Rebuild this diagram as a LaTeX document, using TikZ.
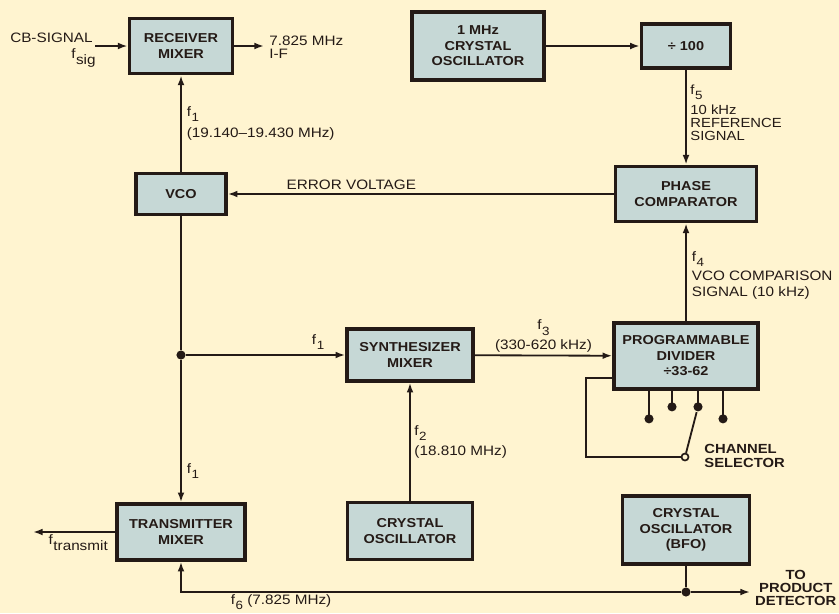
\documentclass[tikz,border=0pt]{standalone}
\usepackage{fontspec}
\setmainfont{Liberation Sans}[FakeStretch=1.12]
\usepackage{tikz}
\usetikzlibrary{arrows.meta,positioning,calc}
\definecolor{Paper}{RGB}{255,244,208}
\definecolor{Panel}{RGB}{198,216,214}
\definecolor{Ink}{RGB}{36,26,22}
\newcommand{\fsub}[1]{f\kern0.4pt\raisebox{-0.7ex}{\fontsize{8.5}{8.5}\selectfont #1}}

\begin{document}
\begin{tikzpicture}[x=0.025cm,y=-0.025cm,
    blk/.style={draw=Ink, line width=2.6pt, fill=Panel, text=Ink, align=center, inner sep=0pt,
      font=\bfseries\fontsize{9.2}{11}\selectfont},
    wire/.style={Ink, line width=1.3pt},
    arr/.style={wire, -{Latex[length=2.4mm,width=1.7mm]}},
    lbl/.style={text=Ink, inner sep=1.5pt, font=\fontsize{9.7}{11}\selectfont},
    sml/.style={text=Ink, inner sep=1.5pt, font=\fontsize{9.4}{9.2}\selectfont},
    dot/.style={circle, fill=Ink, inner sep=0pt, minimum size=6.5pt}]
      \useasboundingbox (0,0) rectangle (839,613);
      \fill[Paper] (0,0) rectangle (839,613);

      \node[blk, minimum width=2.58cm, minimum height=1.38cm] (rxmix) at (181,46) {RECEIVER\\MIXER};
      \node[blk, minimum width=3.3cm, minimum height=1.7cm] (xo1) at (478,46) {1 MHz\\CRYSTAL\\OSCILLATOR};
      \node[blk, minimum width=2.22cm, minimum height=1.1cm] (div100) at (686,46) {÷ 100};
      \node[blk, minimum width=2.25cm, minimum height=1.02cm] (vco) at (181,194) {VCO};
      \node[blk, minimum width=3.52cm, minimum height=1.38cm] (phcmp) at (686,194) {PHASE\\COMPARATOR};
      \node[blk, minimum width=3.15cm, minimum height=1.3cm] (synmix) at (410,355) {SYNTHESIZER\\MIXER};
      \node[blk, minimum width=3.6cm, minimum height=1.65cm] (progdiv) at (686,356) {PROGRAMMABLE\\DIVIDER\\÷33-62};
      \node[blk, minimum width=3.2cm, minimum height=1.4cm] (txmix) at (181,532) {TRANSMITTER\\MIXER};
      \node[blk, minimum width=3.12cm, minimum height=1.42cm] (xo2) at (410,531) {CRYSTAL\\OSCILLATOR};
      \node[blk, minimum width=3.18cm, minimum height=1.7cm] (bfo) at (686,530) {CRYSTAL\\OSCILLATOR\\(BFO)};

      \node[dot] (jn) at (181,355) {};
      \node[dot] (bj) at (686,592) {};
      \coordinate (cbin) at (95,46);
      \coordinate (ifout) at (264,46);
      \coordinate (txout) at (33,532);
      \coordinate (pdout) at (750,592);

      \node[lbl, anchor=east] at (95,38) {CB-SIGNAL};
      \node[lbl, anchor=east] at (98,58) {f\kern0.4pt\raisebox{-0.8ex}{sig}};
      \draw[arr] (cbin) -- (rxmix.west);
      \draw[arr] (rxmix.east) -- (ifout);
      \node[lbl, anchor=west, align=left, font=\fontsize{9.7}{9.5}\selectfont] at (267,47) {7.825 MHz\\I-F};

      \draw[arr] (vco) -- node[lbl, right, align=left, xshift=2pt] {\fsub{1}\\[4pt](19.140–19.430 MHz)} (rxmix);
      \draw[arr] (xo1) -- (div100);
      \draw[arr] (div100) -- node[sml, right, align=left, xshift=1pt, yshift=3pt] {\fsub{5}\\[3pt]10 kHz\\REFERENCE\\SIGNAL} (phcmp);
      \draw[arr] (phcmp) -- node[lbl, above, pos=0.68, yshift=1pt] {ERROR VOLTAGE} (vco);

      \draw[wire] (vco) -- (jn);
      \draw[arr] (jn) -- node[lbl, right, pos=0.78, xshift=2pt] {\fsub{1}} (txmix);
      \draw[arr] (jn) -- node[lbl, above, pos=0.83, yshift=2pt] {\fsub{1}} (synmix);
      \draw[arr] (xo2) -- node[lbl, right, align=left, xshift=1pt] {\fsub{2}\\[3pt](18.810 MHz)} (synmix);
      \draw[arr] (synmix) -- node[lbl, above, align=center] {\fsub{3}\\[3pt](330-620 kHz)} (progdiv);
      \draw[arr] (progdiv) -- node[lbl, right, align=left, xshift=2pt, yshift=-2pt] {\fsub{4}\\[3pt]VCO COMPARISON\\SIGNAL (10 kHz)} (phcmp);

      \foreach \i/\dx/\dy in {1/-37/28, 2/-14/16, 3/12/16, 4/37/28} {
        \draw[wire] ($(progdiv.south)+(\dx,0)$) -- ++(0,\dy) node[dot] (p\i) {};
      }
      \node[circle, draw=Ink, line width=1.2pt, fill=Paper, inner sep=0pt, minimum size=5pt] (sel) at (685,457) {};
      \draw[wire] ([yshift=9pt]progdiv.south west) -- ++(-26,0) |- (sel);
      \draw[wire] (sel) -- (p3);
      \node[sml, anchor=west, align=left, font=\bfseries\fontsize{9.4}{10}\selectfont] at (702,456) {CHANNEL\\SELECTOR};

      \draw[arr] (txmix.west) -- node[lbl, below, pos=0.45] {f\kern0.4pt\raisebox{-0.8ex}{transmit}} (txout);
      \draw[wire] (bfo) -- (bj);
      \draw[arr] (bj) -- (pdout);
      \draw[arr] (bj) -| node[lbl, below, pos=0.4] {\fsub{6} (7.825 MHz)} (txmix.south);
      \node[sml, anchor=west, align=center, font=\bfseries\fontsize{9.4}{9.2}\selectfont] at ([xshift=2pt,yshift=3pt]pdout) {TO\\PRODUCT\\DETECTOR};
    \end{tikzpicture}
\end{document}
